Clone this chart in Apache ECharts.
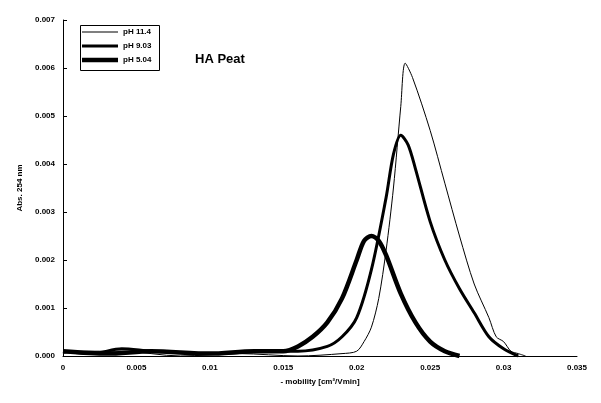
<!DOCTYPE html>
<html><head><meta charset="utf-8">
<script src="https://cdn.jsdelivr.net/npm/echarts@6/dist/echarts.min.js"></script>
<style>body{margin:0;background:#fff}#c{width:601px;height:403px}</style>
</head><body><div id="c"></div>
<script>
var ph114 = [[0,0.00005],[0.001,0.0001],[0.004,0.0001],[0.008,0],[0.012,0.00005],[0.016,0],[0.019,0.00005],[0.020,0.0001],[0.0205,0.0003],[0.021,0.0006],[0.0215,0.0012],[0.022,0.0022],[0.0225,0.0035],[0.023,0.0052],[0.0233,0.0061],[0.0238,0.0058],[0.025,0.0047],[0.026,0.0036],[0.027,0.0025],[0.028,0.0015],[0.029,0.0008],[0.0295,0.0004],[0.030,0.0003],[0.0305,0.0001],[0.031,0.00005],[0.0315,0]];
var ph903 = [[0,0.0001],[0.002,0.00005],[0.004,0.00015],[0.006,0.0001],[0.01,0.00005],[0.014,0.0001],[0.016,0.0001],[0.018,0.0002],[0.019,0.0004],[0.020,0.0008],[0.021,0.0018],[0.022,0.0033],[0.0225,0.0042],[0.023,0.0046],[0.0235,0.0044],[0.024,0.0039],[0.025,0.0028],[0.026,0.0020],[0.027,0.0014],[0.028,0.0009],[0.029,0.0004],[0.030,0.00015],[0.031,0]];
var ph504 = [[0,0.0001],[0.003,0.00005],[0.006,0.0001],[0.01,0.00005],[0.013,0.0001],[0.015,0.0001],[0.016,0.0002],[0.017,0.0004],[0.018,0.0007],[0.019,0.0012],[0.020,0.0020],[0.0205,0.0024],[0.021,0.0025],[0.0215,0.0024],[0.022,0.0021],[0.023,0.0013],[0.024,0.0007],[0.025,0.0003],[0.026,0.0001],[0.027,0]];
var names = ['pH 11.4','pH 9.03','pH 5.04'];
var widths = [1,3,4.5];
var yTicks = ['0.000','0.001','0.002','0.003','0.004','0.005','0.006','0.007'];

var chart = echarts.init(document.getElementById('c'));
var fnt = {fontFamily:'Arial', fontWeight:'bold', fontSize:8, color:'#000'};
var legends = names.map(function(n,i){
  return {left:82, top:28+i*14, itemWidth:36, itemHeight:widths[i], icon:'rect', padding:0, itemGap:0,
    textStyle:fnt, data:[n]};
});
chart.setOption({
  animation:false,
  title:{text:'HA Peat', left:190, top:48, textStyle:{fontFamily:'Arial',fontWeight:'bold',fontSize:13,color:'#000'}},
  legend:legends,
  graphic:[{type:'rect', left:78, top:23, shape:{width:79, height:45}, style:{fill:'none', stroke:'#000', lineWidth:1}}],
  grid:{left:63, right:24, top:20, bottom:47},
  xAxis:{type:'value', min:0, max:0.035, interval:0.005,
    name:'- mobility [cm²/Vmin]', nameLocation:'middle', nameGap:22, nameTextStyle:fnt,
    axisLine:{lineStyle:{color:'#000'}}, axisTick:{show:false}, splitLine:{show:false},
    axisLabel:Object.assign({formatter:function(v){return String(+v.toFixed(3));}}, fnt)},
  yAxis:{type:'value', min:0, max:0.007, interval:0.001,
    name:'Abs. 254 nm', nameLocation:'middle', nameGap:38, nameTextStyle:fnt,
    axisLine:{show:true, lineStyle:{color:'#000'}}, axisTick:{show:true, inside:true, length:4}, splitLine:{show:false},
    axisLabel:Object.assign({formatter:function(v){return yTicks[Math.round(v*1000)];}}, fnt)},
  series:[ph114, ph903, ph504].map(function(d,i){
    return {name:names[i], type:'line', data:d, symbol:'none', smooth:0.3,
      lineStyle:{color:'#000',width:widths[i]}, itemStyle:{color:'#000'}};
  })
});
</script></body></html>
